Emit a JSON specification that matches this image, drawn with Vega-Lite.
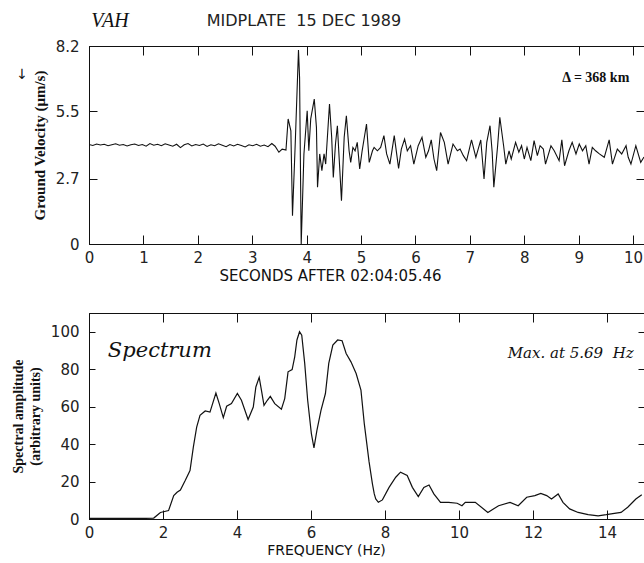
{
  "$schema": "https://vega.github.io/schema/vega-lite/v6.json",
  "background": "white",
  "padding": {"left": 10, "top": 10, "right": 0, "bottom": 0},
  "spacing": 28,
  "config": {
    "view": {"stroke": "black", "strokeWidth": 1},
    "axis": {"labelFont": "DejaVu Sans", "labelFontSize": 15, "labelColor": "#222", "tickColor": "#111", "domainColor": "#111", "grid": false, "titleColor": "#111", "labelFlush": false, "labelOverlap": false}
  },
  "datasets": {
    "seis": [
      {"t": 0.00, "v": 4.12}, {"t": 0.07, "v": 4.08}, {"t": 0.14, "v": 4.14}, {"t": 0.21, "v": 4.10}, {"t": 0.28, "v": 4.13},
      {"t": 0.35, "v": 4.07}, {"t": 0.42, "v": 4.11}, {"t": 0.49, "v": 4.15}, {"t": 0.56, "v": 4.09}, {"t": 0.63, "v": 4.12},
      {"t": 0.70, "v": 4.06}, {"t": 0.77, "v": 4.11}, {"t": 0.84, "v": 4.14}, {"t": 0.91, "v": 4.08}, {"t": 0.98, "v": 4.12},
      {"t": 1.05, "v": 4.05}, {"t": 1.12, "v": 4.16}, {"t": 1.19, "v": 4.09}, {"t": 1.26, "v": 4.13}, {"t": 1.33, "v": 4.07},
      {"t": 1.40, "v": 4.15}, {"t": 1.47, "v": 4.10}, {"t": 1.54, "v": 4.05}, {"t": 1.61, "v": 4.13}, {"t": 1.68, "v": 3.99},
      {"t": 1.75, "v": 4.11}, {"t": 1.82, "v": 4.16}, {"t": 1.89, "v": 4.06}, {"t": 1.96, "v": 4.12}, {"t": 2.03, "v": 4.08},
      {"t": 2.10, "v": 4.14}, {"t": 2.17, "v": 4.04}, {"t": 2.24, "v": 4.11}, {"t": 2.31, "v": 4.07}, {"t": 2.38, "v": 4.15},
      {"t": 2.45, "v": 4.09}, {"t": 2.52, "v": 4.03}, {"t": 2.59, "v": 4.12}, {"t": 2.66, "v": 4.06}, {"t": 2.73, "v": 4.13},
      {"t": 2.80, "v": 4.08}, {"t": 2.87, "v": 4.02}, {"t": 2.94, "v": 4.11}, {"t": 3.01, "v": 4.07}, {"t": 3.08, "v": 4.13},
      {"t": 3.15, "v": 4.05}, {"t": 3.22, "v": 4.10}, {"t": 3.29, "v": 4.03}, {"t": 3.36, "v": 4.16}, {"t": 3.42, "v": 4.05},
      {"t": 3.49, "v": 3.80}, {"t": 3.55, "v": 3.93}, {"t": 3.62, "v": 3.89}, {"t": 3.66, "v": 5.18}, {"t": 3.71, "v": 4.69},
      {"t": 3.74, "v": 1.17}, {"t": 3.79, "v": 4.14}, {"t": 3.85, "v": 8.03}, {"t": 3.87, "v": 6.90}, {"t": 3.90, "v": 0.0},
      {"t": 3.95, "v": 3.73}, {"t": 4.01, "v": 5.52}, {"t": 4.04, "v": 3.86}, {"t": 4.075, "v": 5.18}, {"t": 4.14, "v": 6.00},
      {"t": 4.18, "v": 4.83}, {"t": 4.20, "v": 2.35}, {"t": 4.24, "v": 3.73}, {"t": 4.28, "v": 3.04}, {"t": 4.32, "v": 3.73},
      {"t": 4.35, "v": 3.31}, {"t": 4.42, "v": 5.80}, {"t": 4.46, "v": 4.42}, {"t": 4.49, "v": 2.76}, {"t": 4.53, "v": 4.14},
      {"t": 4.565, "v": 4.90}, {"t": 4.61, "v": 3.04}, {"t": 4.64, "v": 1.79}, {"t": 4.69, "v": 4.42}, {"t": 4.73, "v": 5.31},
      {"t": 4.78, "v": 3.86}, {"t": 4.81, "v": 3.38}, {"t": 4.85, "v": 4.00}, {"t": 4.89, "v": 3.86}, {"t": 4.93, "v": 4.21},
      {"t": 4.975, "v": 3.11}, {"t": 5.02, "v": 3.86}, {"t": 5.10, "v": 4.97}, {"t": 5.15, "v": 3.38}, {"t": 5.21, "v": 3.86},
      {"t": 5.24, "v": 4.00}, {"t": 5.30, "v": 3.86}, {"t": 5.36, "v": 4.00}, {"t": 5.42, "v": 4.49}, {"t": 5.47, "v": 3.73},
      {"t": 5.53, "v": 3.31}, {"t": 5.61, "v": 4.49}, {"t": 5.69, "v": 3.13}, {"t": 5.74, "v": 3.93}, {"t": 5.80, "v": 4.35},
      {"t": 5.85, "v": 3.86}, {"t": 5.91, "v": 4.07}, {"t": 5.97, "v": 3.31}, {"t": 6.05, "v": 4.07}, {"t": 6.12, "v": 4.42},
      {"t": 6.19, "v": 3.59}, {"t": 6.24, "v": 3.86}, {"t": 6.29, "v": 4.31}, {"t": 6.34, "v": 3.52}, {"t": 6.39, "v": 3.04},
      {"t": 6.46, "v": 4.62}, {"t": 6.53, "v": 4.21}, {"t": 6.60, "v": 3.31}, {"t": 6.69, "v": 4.14}, {"t": 6.77, "v": 3.86},
      {"t": 6.82, "v": 3.93}, {"t": 6.88, "v": 3.66}, {"t": 6.94, "v": 3.45}, {"t": 7.03, "v": 4.31}, {"t": 7.11, "v": 3.59},
      {"t": 7.20, "v": 4.31}, {"t": 7.26, "v": 2.69}, {"t": 7.31, "v": 4.21}, {"t": 7.37, "v": 4.90}, {"t": 7.41, "v": 3.80},
      {"t": 7.44, "v": 2.35}, {"t": 7.51, "v": 4.07}, {"t": 7.55, "v": 5.25}, {"t": 7.62, "v": 4.07}, {"t": 7.66, "v": 3.31},
      {"t": 7.72, "v": 3.86}, {"t": 7.76, "v": 3.52}, {"t": 7.84, "v": 4.21}, {"t": 7.90, "v": 3.80}, {"t": 7.95, "v": 4.07},
      {"t": 8.00, "v": 3.52}, {"t": 8.05, "v": 4.00}, {"t": 8.12, "v": 3.45}, {"t": 8.18, "v": 4.28}, {"t": 8.24, "v": 3.66},
      {"t": 8.29, "v": 4.07}, {"t": 8.35, "v": 3.93}, {"t": 8.39, "v": 3.31}, {"t": 8.49, "v": 4.07}, {"t": 8.55, "v": 3.86},
      {"t": 8.64, "v": 3.45}, {"t": 8.69, "v": 4.31}, {"t": 8.74, "v": 3.24}, {"t": 8.82, "v": 3.86}, {"t": 8.88, "v": 4.21},
      {"t": 8.95, "v": 3.73}, {"t": 9.01, "v": 4.14}, {"t": 9.07, "v": 3.86}, {"t": 9.13, "v": 4.07}, {"t": 9.19, "v": 3.31},
      {"t": 9.25, "v": 4.00}, {"t": 9.31, "v": 3.86}, {"t": 9.38, "v": 3.73}, {"t": 9.47, "v": 3.59}, {"t": 9.56, "v": 4.31},
      {"t": 9.62, "v": 3.31}, {"t": 9.71, "v": 3.93}, {"t": 9.79, "v": 3.73}, {"t": 9.87, "v": 4.07}, {"t": 9.91, "v": 3.59},
      {"t": 9.96, "v": 3.31}, {"t": 10.05, "v": 4.07}, {"t": 10.14, "v": 3.38}, {"t": 10.2, "v": 3.6}
    ],
    "spec": [
      {"f": 0.0, "a": 0.3}, {"f": 0.5, "a": 0.3}, {"f": 1.0, "a": 0.3}, {"f": 1.5, "a": 0.3}, {"f": 1.75, "a": 0.5},
      {"f": 1.93, "a": 3.5}, {"f": 2.15, "a": 4.5}, {"f": 2.29, "a": 12.5}, {"f": 2.38, "a": 14.3}, {"f": 2.47, "a": 15.5},
      {"f": 2.60, "a": 20.5}, {"f": 2.73, "a": 25.9}, {"f": 2.82, "a": 38.4}, {"f": 2.91, "a": 49.1}, {"f": 3.00, "a": 55.4},
      {"f": 3.14, "a": 57.7}, {"f": 3.27, "a": 57.1}, {"f": 3.43, "a": 67.3}, {"f": 3.52, "a": 61.6}, {"f": 3.63, "a": 54.1},
      {"f": 3.72, "a": 60.2}, {"f": 3.85, "a": 61.6}, {"f": 4.01, "a": 67.0}, {"f": 4.12, "a": 63.4}, {"f": 4.30, "a": 53.1},
      {"f": 4.44, "a": 59.8}, {"f": 4.51, "a": 70.5}, {"f": 4.60, "a": 75.6}, {"f": 4.66, "a": 68.8}, {"f": 4.73, "a": 60.7},
      {"f": 4.82, "a": 63.4}, {"f": 4.90, "a": 65.5}, {"f": 5.02, "a": 61.6}, {"f": 5.20, "a": 58.6}, {"f": 5.29, "a": 64.3},
      {"f": 5.38, "a": 78.6}, {"f": 5.49, "a": 79.8}, {"f": 5.56, "a": 86.6}, {"f": 5.62, "a": 95.6}, {"f": 5.69, "a": 100.0},
      {"f": 5.75, "a": 98.2}, {"f": 5.83, "a": 83.1}, {"f": 5.91, "a": 63.4}, {"f": 6.01, "a": 45.6}, {"f": 6.08, "a": 38.0},
      {"f": 6.16, "a": 47.3}, {"f": 6.27, "a": 58.0}, {"f": 6.39, "a": 67.0}, {"f": 6.48, "a": 83.1}, {"f": 6.59, "a": 92.9},
      {"f": 6.72, "a": 95.6}, {"f": 6.84, "a": 95.2}, {"f": 6.95, "a": 88.4}, {"f": 7.08, "a": 83.9}, {"f": 7.22, "a": 77.7},
      {"f": 7.35, "a": 68.8}, {"f": 7.44, "a": 50.9}, {"f": 7.57, "a": 30.5}, {"f": 7.66, "a": 18.8}, {"f": 7.71, "a": 13.4},
      {"f": 7.75, "a": 10.7}, {"f": 7.82, "a": 8.9}, {"f": 7.93, "a": 10.2}, {"f": 8.11, "a": 16.9}, {"f": 8.29, "a": 22.3},
      {"f": 8.42, "a": 25.0}, {"f": 8.60, "a": 23.2}, {"f": 8.74, "a": 16.9}, {"f": 8.90, "a": 12.0}, {"f": 9.05, "a": 16.9},
      {"f": 9.19, "a": 18.2}, {"f": 9.32, "a": 13.4}, {"f": 9.50, "a": 8.9}, {"f": 9.72, "a": 8.9}, {"f": 9.95, "a": 8.4},
      {"f": 10.08, "a": 7.1}, {"f": 10.17, "a": 8.9}, {"f": 10.44, "a": 8.9}, {"f": 10.78, "a": 3.5}, {"f": 11.07, "a": 7.1},
      {"f": 11.38, "a": 8.9}, {"f": 11.6, "a": 7.1}, {"f": 11.83, "a": 11.6}, {"f": 12.05, "a": 12.5}, {"f": 12.21, "a": 13.7},
      {"f": 12.37, "a": 12.5}, {"f": 12.5, "a": 10.7}, {"f": 12.68, "a": 13.4}, {"f": 12.81, "a": 8.9}, {"f": 12.99, "a": 5.4},
      {"f": 13.22, "a": 3.5}, {"f": 13.49, "a": 2.3}, {"f": 13.76, "a": 1.7}, {"f": 13.98, "a": 2.3}, {"f": 14.2, "a": 3.0},
      {"f": 14.38, "a": 3.5}, {"f": 14.56, "a": 6.3}, {"f": 14.78, "a": 10.7}, {"f": 14.94, "a": 13.0}
    ]
  },
  "vconcat": [
    {
      "width": 555,
      "height": 198,
      "layer": [
        {
          "data": {"name": "seis"},
          "mark": {"type": "line", "color": "#111", "strokeWidth": 1.1, "clip": true},
          "encoding": {
            "x": {"field": "t", "type": "quantitative", "scale": {"domain": [0, 10.2], "nice": false, "zero": false},
              "axis": {"orient": "bottom", "values": [0,1,2,3,4,5,6,7,8,9,10], "format": "d", "tickSize": -9, "labelPadding": 15,
                "title": "SECONDS AFTER 02:04:05.46", "titleFont": "DejaVu Sans", "titleFontSize": 15, "titleFontWeight": "normal", "titlePadding": 3, "titleX": 241, "titleAlign": "center"}},
            "y": {"field": "v", "type": "quantitative", "scale": {"domain": [0, 8.2], "nice": false},
              "axis": {"orient": "left", "values": [0, 2.7, 5.5, 8.2], "format": ".1~f", "tickSize": -8, "labelPadding": 18,
                "title": "Ground Velocity (μm/s)", "titleFont": "Liberation Serif", "titleFontSize": 15, "titleFontWeight": "bold", "titlePadding": 8}}
          }
        },
        {
          "data": {"values": [{}]},
          "mark": {"type": "text", "text": "Δ = 368 km", "font": "Liberation Serif", "fontSize": 14, "fontWeight": "bold", "align": "right", "baseline": "middle", "color": "#111"},
          "encoding": {
            "x": {"datum": 9.93, "type": "quantitative", "axis": {"orient": "top", "values": [1,2,3,4,5,6,7,8,9,10], "labels": false, "title": null, "tickSize": -9}},
            "y": {"datum": 6.87, "type": "quantitative", "axis": {"orient": "right", "values": [2.7, 5.5], "labels": false, "title": null, "tickSize": -8}}
          }
        },
        {
          "data": {"values": [{}]},
          "mark": {"type": "text", "text": "VAH", "font": "Liberation Serif", "fontSize": 20, "fontStyle": "italic", "align": "left", "baseline": "middle", "color": "#111"},
          "encoding": {
            "x": {"datum": 0.04, "type": "quantitative", "axis": null},
            "y": {"datum": 9.24, "type": "quantitative", "axis": null}
          }
        },
        {
          "data": {"values": [{}]},
          "mark": {"type": "text", "text": "MIDPLATE\u00a0 15 DEC 1989", "font": "DejaVu Sans", "fontSize": 16, "align": "center", "baseline": "middle", "color": "#222"},
          "encoding": {
            "x": {"datum": 3.95, "type": "quantitative", "axis": null},
            "y": {"datum": 9.24, "type": "quantitative", "axis": null}
          }
        },
        {
          "data": {"values": [{}]},
          "mark": {"type": "text", "text": "↓", "font": "DejaVu Sans", "fontSize": 14, "align": "center", "baseline": "middle", "color": "#111"},
          "encoding": {
            "x": {"datum": -1.23, "type": "quantitative", "axis": null},
            "y": {"datum": 7.0, "type": "quantitative", "axis": null}
          }
        }
      ]
    },
    {
      "width": 555,
      "height": 206,
      "layer": [
        {
          "data": {"name": "spec"},
          "mark": {"type": "line", "color": "#111", "strokeWidth": 1.2, "clip": true},
          "encoding": {
            "x": {"field": "f", "type": "quantitative", "scale": {"domain": [0, 15], "nice": false},
              "axis": {"orient": "bottom", "values": [0,2,4,6,8,10,12,14], "format": "d", "tickSize": -9, "labelPadding": 15,
                "title": "FREQUENCY (Hz)", "titleFont": "DejaVu Sans", "titleFontSize": 14, "titleFontWeight": "normal", "titlePadding": 3, "titleX": 237, "titleAlign": "center"}},
            "y": {"field": "a", "type": "quantitative", "scale": {"domain": [0, 110], "nice": false},
              "axis": {"orient": "left", "values": [0,20,40,60,80,100], "format": "d", "tickSize": -6, "labelPadding": 16,
                "title": ["Spectral amplitude", "(arbitrary units)"], "titleFont": "Liberation Serif", "titleFontSize": 14, "titleFontWeight": "bold", "titleLineHeight": 17, "titlePadding": 8}}
          }
        },
        {
          "data": {"values": [{}]},
          "mark": {"type": "text", "text": "Spectrum", "font": "DejaVu Serif", "fontSize": 21, "fontStyle": "italic", "align": "left", "baseline": "middle", "color": "#111"},
          "encoding": {
            "x": {"datum": 0.51, "type": "quantitative", "axis": {"orient": "top", "values": [2,4,6,8,10,12,14], "labels": false, "title": null, "tickSize": -9}},
            "y": {"datum": 89.5, "type": "quantitative", "axis": {"orient": "right", "values": [20,40,60,80,100], "labels": false, "title": null, "tickSize": -6}}
          }
        },
        {
          "data": {"values": [{}]},
          "mark": {"type": "text", "text": "Max. at 5.69\u00a0 Hz", "font": "DejaVu Serif", "fontSize": 15, "fontStyle": "italic", "align": "right", "baseline": "middle", "color": "#111"},
          "encoding": {
            "x": {"datum": 14.72, "type": "quantitative", "axis": null},
            "y": {"datum": 88.6, "type": "quantitative", "axis": null}
          }
        }
      ]
    }
  ]
}
